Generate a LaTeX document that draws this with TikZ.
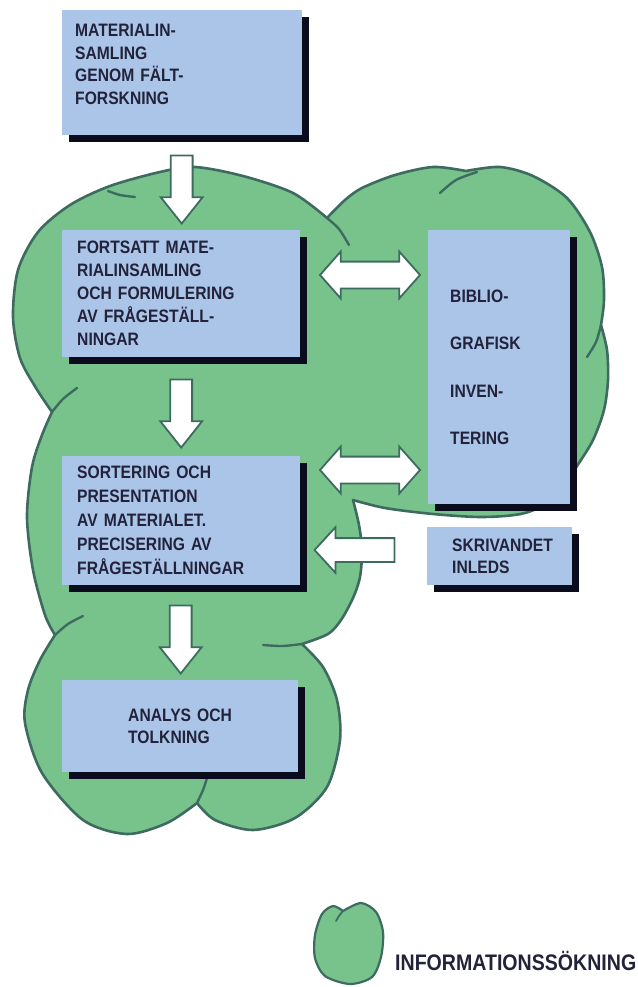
\documentclass[tikz,border=0pt]{standalone}
\usepackage{fontspec}
\newfontfamily\lblf[FakeStretch=0.87]{Liberation Sans Bold}
\usetikzlibrary{shapes.arrows,shadows,calc}
\definecolor{cloudg}{HTML}{78C38C}
\definecolor{outl}{HTML}{3E6B60}
\definecolor{boxb}{HTML}{ABC5E9}
\definecolor{shcol}{HTML}{0B0B1E}
\definecolor{txtc}{HTML}{22223A}
\begin{document}
\begin{tikzpicture}[x=1pt,y=-1pt,
  box/.style={fill=boxb, draw=none, anchor=north west, inner sep=0pt, text=txtc, align=left,
    font=\lblf\fontsize{18}{22.5}\selectfont,
    drop shadow={opacity=1, fill=shcol, shadow xshift=7pt, shadow yshift=-7pt}},
  crease/.style={draw=outl, line width=2.4pt, line cap=round},
  downarr/.style={single arrow, draw=outl, fill=white, line width=1.8pt, minimum height=68pt,
    single arrow head extend=10pt, inner xsep=10pt, inner ysep=0pt, single arrow tip angle=77,
    shape border rotate=270},
  dblarr/.style={double arrow, draw=outl, fill=white, line width=1.8pt, minimum height=100pt,
    double arrow head extend=10pt, inner xsep=0pt, inner ysep=12.5pt, double arrow tip angle=97},
  leftarr/.style={single arrow, draw=outl, fill=white, line width=1.8pt, minimum height=80pt,
    single arrow head extend=11pt, inner xsep=0pt, inner ysep=11pt, single arrow tip angle=95,
    shape border rotate=180}
]
\useasboundingbox (0,0) rectangle (637,987);
\fill[white] (0,0) rectangle (637,987);

% cloud
\path[draw=outl, fill=cloudg, line width=2.6pt, line join=round]
 plot[smooth] coordinates {(52,412) (36,388) (20,358) (13,317) (18,270) (38,232) (70,205) (110,186) (160,172) (195,167) (243,176) (293,193) (327,218)}
 -- plot[smooth] coordinates {(327,218) (345,200) (362,188) (395,175) (433,167) (466,171)}
 -- plot[smooth] coordinates {(466,171) (500,167) (533,176) (567,198) (590,232) (602,267) (604,300) (601,325)}
 -- plot[smooth] coordinates {(601,325) (607,350) (608,380) (604,410) (593,440) (577,466) (556,497) (525,513) (483,517) (433,514) (385,508) (353,500)}
 -- plot[smooth] coordinates {(353,500) (359,525) (362,550) (360,577) (353,598) (341,620) (328,634) (302,644)}
 -- plot[smooth] coordinates {(302,644) (323,667) (337,700) (340,740) (327,787) (295,818) (253,830) (215,820) (197,803)}
 -- plot[smooth] coordinates {(197,803) (167,823) (127,834) (83,820) (42,773) (25,723) (28,690) (40,660) (55,635)}
 -- plot[smooth] coordinates {(55,635) (45,615) (33,570) (27,517) (32,467) (42,435) (52,412)}
 -- cycle;
\path[crease] plot[smooth] coordinates {(108,191) (120,195) (135,197)};
\path[crease] plot[smooth] coordinates {(327,218) (339,229) (349,245)};
\path[crease] plot[smooth] coordinates {(440,193) (456,180) (477,172)};
\path[crease] plot[smooth] coordinates {(601,325) (596,342) (587,357)};
\path[crease] plot[smooth] coordinates {(52,412) (63,399) (77,388)};
\path[crease] plot[smooth] coordinates {(55,635) (68,624) (83,616)};
\path[crease] plot[smooth] coordinates {(302,644) (282,646) (263,645)};
\path[crease] plot[smooth] coordinates {(197,803) (203,790) (207,778)};

% boxes
\node[box, minimum width=240pt, minimum height=125pt, text width=214pt] (b1) at (62,10)
  {MATERIALIN-\\SAMLING\\GENOM FÄLT-\\FORSKNING\\[-6pt]\mbox{}};
\node[box, minimum width=238pt, minimum height=127pt, text width=208pt,
  font=\lblf\fontsize{18}{23}\selectfont] (b2) at (62,230)
  {FORTSATT MATE-\\RIALINSAMLING\\OCH FORMULERING\\AV FRÅGESTÄLL-\\NINGAR};
\node[box, minimum width=238pt, minimum height=129pt, text width=208pt,
  font=\lblf\fontsize{18}{24}\selectfont] (b3) at (62,456)
  {SORTERING OCH\\PRESENTATION\\AV MATERIALET.\\PRECISERING AV\\FRÅGESTÄLLNINGAR};
\node[box, minimum width=236pt, minimum height=92pt, text width=104pt] (b4) at (62,680)
  {ANALYS OCH\\TOLKNING};
\node[box, minimum width=142pt, minimum height=274pt, text width=98pt] (bib) at (428,230)
  {BIBLIO-\\[25pt]GRAFISK\\[25pt]INVEN-\\[25pt]TERING};
\node[box, minimum width=145pt, minimum height=58pt, text width=95pt] (skr) at (427,527)
  {SKRIVANDET\\INLEDS};

% arrows
\node[downarr] (a1) at ($(b1.south)!0.5!(b2.north)$) {};
\node[downarr] (a2) at ($(b2.south)!0.5!(b3.north)$) {};
\node[downarr] (a3) at ($(b3.south)!0.5!(b4.north)$) {};
\node[dblarr] (d1) at (370,275) {};
\node[dblarr] (d2) at (370,470) {};
\node[leftarr] (l1) at (360,550) {};

% legend
\path[draw=outl, fill=cloudg, line width=2.2pt, line join=round]
 plot[smooth] coordinates {(343,911) (333,906) (322,914) (315,935) (315,958) (325,976) (350,984) (372,977) (381,957) (383,932) (376,912) (361,903) (343,911)} -- cycle;
\path[crease, line width=1.8pt] plot[smooth] coordinates {(343,911) (339,916) (336,921)};
\node[anchor=west, inner sep=0pt, text=txtc, font=\lblf\fontsize{22.5}{24}\selectfont] (leg) at (395,961) {INFORMATIONSSÖKNING};
\end{tikzpicture}
\end{document}
